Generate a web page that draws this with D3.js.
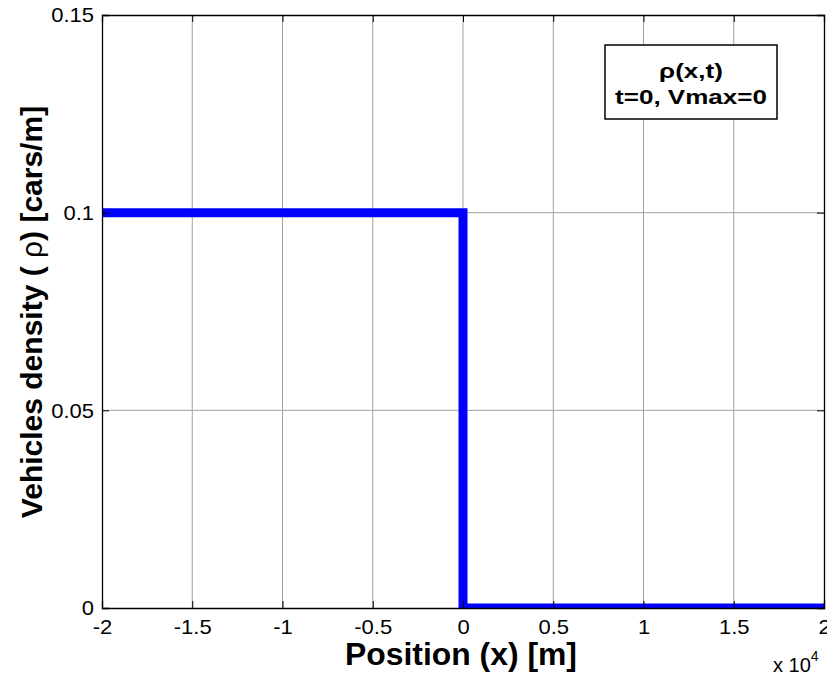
<!DOCTYPE html>
<html><head><meta charset="utf-8">
<script src="https://cdn.jsdelivr.net/npm/d3@7"></script>
<style>body{margin:0;background:#fff}svg{display:block}text{font-family:Arial,"Liberation Sans",sans-serif}</style>
</head><body>
<svg id="c" width="827" height="679"></svg>
<script>
const xValues = [-20000, -10000, 0, 0, 10000, 20000];
const rhoValues = [0.1, 0.1, 0.1, 0, 0, 0];
const xTicks = [-20000, -15000, -10000, -5000, 0, 5000, 10000, 15000, 20000];
const xTickLabels = ["-2", "-1.5", "-1", "-0.5", "0", "0.5", "1", "1.5", "2"];
const yTicks = [0, 0.05, 0.1, 0.15];
const yTickLabels = ["0", "0.05", "0.1", "0.15"];

const svg = d3.select("#c");
const L = 102, R = 824, T = 15, B = 608;
const x = d3.scaleLinear().domain([-20000, 20000]).range([L, R]);
const y = d3.scaleLinear().domain([0, 0.15]).range([B, T]);
const sx = 1.1;

// grid
svg.append("g").selectAll("line").data(xTicks.slice(1, -1)).join("line")
  .attr("x1", d => x(d)).attr("x2", d => x(d)).attr("y1", T).attr("y2", B)
  .attr("stroke", "#a0a0a0").attr("stroke-width", 1);
svg.append("g").selectAll("line").data(yTicks.slice(1, -1)).join("line")
  .attr("y1", d => y(d)).attr("y2", d => y(d)).attr("x1", L).attr("x2", R)
  .attr("stroke", "#a0a0a0").attr("stroke-width", 1);

// clip
svg.append("clipPath").attr("id", "clip").append("rect")
  .attr("x", L).attr("y", T).attr("width", R - L).attr("height", B - T);

const line = d3.line().x((d, i) => x(xValues[i])).y(d => y(d));
svg.append("path").datum(rhoValues).attr("d", line)
  .attr("fill", "none").attr("stroke", "#0000ff").attr("stroke-width", 9)
  .attr("stroke-linejoin", "miter").attr("clip-path", "url(#clip)");

// axes (ticks inward)
const tl = 7;
const gx = svg.append("g").attr("transform", `translate(0,${B})`)
  .call(d3.axisBottom(x).tickValues(xTicks).tickSize(-tl)
    .tickFormat((d, i) => xTickLabels[i]));
const gxt = svg.append("g").attr("transform", `translate(0,${T})`)
  .call(d3.axisTop(x).tickValues(xTicks).tickSize(-tl).tickFormat(""));
const gy = svg.append("g").attr("transform", `translate(${L},0)`)
  .call(d3.axisLeft(y).tickValues(yTicks).tickSize(-tl)
    .tickFormat((d, i) => yTickLabels[i]));
const gyr = svg.append("g").attr("transform", `translate(${R},0)`)
  .call(d3.axisRight(y).tickValues(yTicks).tickSize(-tl).tickFormat(""));
[gx, gxt, gy, gyr].forEach(g => {
  g.attr("font-size", 20).attr("font-family", "Arial, 'Liberation Sans', sans-serif");
  g.select(".domain").attr("stroke", "#000").attr("stroke-width", 1.3);
  g.selectAll(".tick line").attr("stroke", "#000");
  g.selectAll("text").attr("font-size", 20).attr("fill", "#000");
});
gx.selectAll("text").attr("x", 0).attr("y", 26).attr("dy", 0)
  .attr("transform", `scale(${sx},1)`);
gy.selectAll("text").attr("x", -8 / sx).attr("dy", "0.34em")
  .attr("transform", `scale(${sx},1)`);

// exponent
const ex = svg.append("text").attr("x", 773).attr("y", 672).attr("font-size", 20);
ex.append("tspan").text("x 10");
ex.append("tspan").attr("dy", -11).attr("font-size", 14).text("4");

// axis titles
svg.append("text").attr("x", 461).attr("y", 665).attr("text-anchor", "middle")
  .attr("font-size", 31).attr("font-weight", "bold")
  .attr("textLength", 232).attr("lengthAdjust", "spacingAndGlyphs").text("Position (x) [m]");
const yt = svg.append("text").attr("transform", "translate(42,312) rotate(-90)")
  .attr("text-anchor", "middle").attr("font-size", 30).attr("font-weight", "bold");
yt.append("tspan").text("Vehicles density ( ");
yt.append("tspan").attr("font-weight", "normal").text("ρ");
yt.append("tspan").text(") [cars/m]");

// legend box
svg.append("rect").attr("x", 605).attr("y", 45).attr("width", 172).attr("height", 74)
  .attr("fill", "#fff").attr("stroke", "#000").attr("stroke-width", 1.5);
svg.append("text").attr("transform", "translate(691,78) scale(1.24,1)").attr("text-anchor", "middle")
  .attr("font-size", 21).attr("font-weight", "bold").text("ρ(x,t)");
svg.append("text").attr("transform", "translate(691,104) scale(1.24,1)").attr("text-anchor", "middle")
  .attr("font-size", 21).attr("font-weight", "bold").text("t=0, Vmax=0");
</script>
</body></html>
